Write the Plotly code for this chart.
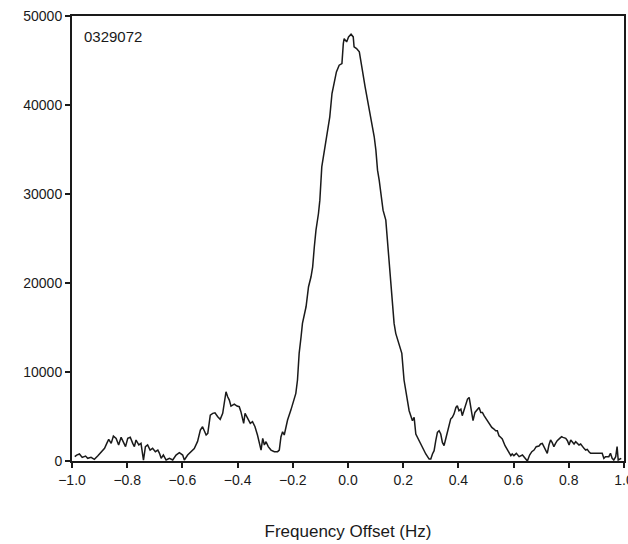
import plotly.graph_objects as go

# Measured frequency-offset spectrum (Hz vs. power)
freq = [
    -0.990, -0.983, -0.973, -0.963, -0.951, -0.943, -0.931, -0.919, -0.907, -0.894,
    -0.882, -0.874, -0.867, -0.858, -0.850, -0.840, -0.831, -0.822, -0.814, -0.806,
    -0.798, -0.789, -0.780, -0.774, -0.768, -0.758, -0.750, -0.741, -0.734, -0.726,
    -0.717, -0.708, -0.698, -0.689, -0.683, -0.677, -0.669, -0.659, -0.647, -0.635,
    -0.623, -0.611, -0.599, -0.593, -0.581, -0.569, -0.557, -0.545, -0.535, -0.527,
    -0.514, -0.508, -0.499, -0.490, -0.482, -0.472, -0.463, -0.454, -0.446, -0.442,
    -0.436, -0.430, -0.424, -0.412, -0.402, -0.394, -0.388, -0.378, -0.373, -0.364,
    -0.354, -0.346, -0.337, -0.328, -0.321, -0.315, -0.309, -0.303, -0.297, -0.289,
    -0.279, -0.267, -0.255, -0.249, -0.243, -0.237, -0.231, -0.225, -0.219, -0.207,
    -0.195, -0.189, -0.183, -0.177, -0.170, -0.165, -0.152, -0.143, -0.134, -0.128,
    -0.122, -0.116, -0.107, -0.102, -0.095, -0.086, -0.074, -0.066, -0.058, -0.050,
    -0.042, -0.032, -0.022, -0.017, -0.014, -0.005, 0.002, 0.011, 0.019, 0.022,
    0.031, 0.041, 0.047, 0.052, 0.062, 0.071, 0.079, 0.088, 0.095, 0.101,
    0.107, 0.113, 0.119, 0.127, 0.137, 0.143, 0.149, 0.155, 0.161, 0.167,
    0.173, 0.185, 0.195, 0.203, 0.210, 0.2215, 0.2335, 0.2396, 0.2457, 0.2577,
    0.2697, 0.2818, 0.294, 0.300, 0.306, 0.312, 0.318, 0.324, 0.330, 0.336,
    0.342, 0.348, 0.354, 0.364, 0.372, 0.378, 0.384, 0.391, 0.396, 0.402,
    0.409, 0.414, 0.421, 0.427, 0.433, 0.439, 0.441, 0.448, 0.453, 0.460,
    0.469, 0.475, 0.481, 0.487, 0.493, 0.501, 0.511, 0.521, 0.529, 0.535,
    0.541, 0.547, 0.553, 0.559, 0.569, 0.577, 0.583, 0.590, 0.595, 0.601,
    0.610, 0.620, 0.632, 0.644, 0.650, 0.658, 0.666, 0.674, 0.682, 0.692,
    0.698, 0.704, 0.710, 0.716, 0.722, 0.728, 0.734, 0.740, 0.746, 0.752,
    0.758, 0.767, 0.774, 0.779, 0.789, 0.795, 0.801, 0.807, 0.813, 0.819,
    0.825, 0.831, 0.837, 0.843, 0.849, 0.855, 0.861, 0.867, 0.873, 0.879,
    0.885, 0.897, 0.909, 0.921, 0.927, 0.933, 0.945, 0.951, 0.957, 0.963,
    0.970, 0.975, 0.979, 0.990,
]

power = [
    500, 670, 790, 410, 560, 300, 410, 190, 560, 1050,
    1420, 1980, 2430, 1980, 2800, 2540, 1800, 2660, 2170, 1610,
    2540, 2660, 1980, 1610, 2360, 1800, 1980, 110, 1610, 1800,
    1230, 1420, 1050, 1230, 860, 300, 670, 110, 300, 110,
    670, 940, 670, 110, 670, 1050, 1400, 2200, 3480, 3850,
    2920, 3100, 5160, 5350, 5420, 4970, 4680, 5350, 7030, 7780,
    7220, 6840, 6170, 6400, 6170, 6100, 5540, 4230, 5350, 4790,
    4230, 4410, 3850, 2920, 1980, 1230, 2540, 1800, 2170, 1610,
    1230, 1050, 1050, 1230, 2700, 3290, 2920, 3900, 4600, 5720,
    7000, 7600, 9100, 12090, 13960, 15460, 17330, 19580, 20700, 21820,
    24070, 25940, 27810, 29310, 33050, 34930, 37170, 38670, 41290, 42410,
    43720, 44470, 44650, 46900, 47460, 47090, 47650, 47950, 47650, 46530,
    46340, 45970, 45040, 43910, 42040, 40540, 39050, 37930, 36430, 34930,
    32680, 31550, 30060, 28180, 27060, 24820, 22200, 19580, 17330, 15460,
    14340, 13210, 12090, 9100, 7700, 5650, 4530, 4900, 3030, 2280,
    1530, 790, 220, 220, 790, 1160, 2280, 3220, 3400, 3030,
    2090, 1720, 2470, 3780, 4710, 4900, 5270, 6020, 6210, 5650,
    5830, 5090, 5830, 6400, 6960, 7140, 6770, 5650, 4530, 5460,
    5830, 6020, 5460, 5460, 5090, 4710, 4340, 3780, 3590, 3400,
    3400, 2840, 2660, 2470, 1720, 1350, 970, 600, 790, 600,
    860, 490, 670, 200, 0, 670, 1050, 1230, 1610, 1680,
    1910, 1980, 1610, 1230, 860, 1800, 2360, 2060, 1610, 1980,
    2280, 2540, 2730, 2660, 2540, 2280, 1800, 2360, 2170, 1910,
    2170, 1980, 1800, 1910, 1610, 1420, 1230, 1310, 1050, 860,
    860, 860, 860, 860, 300, 490, 490, 860, 300, 110,
    490, 1610, 110, 300,
]

x_ticks = [-1.0, -0.8, -0.6, -0.4, -0.2, 0.0, 0.2, 0.4, 0.6, 0.8, 1.0]
y_ticks = [0, 10000, 20000, 30000, 40000, 50000]
sample_id = "0329072"

font_family = "Liberation Sans, Arial, sans-serif"
ink = "#1a1a1a"

fig = go.Figure()
fig.add_trace(go.Scatter(
    x=freq, y=power, mode="lines",
    line=dict(color=ink, width=1.5),
    showlegend=False, hoverinfo="skip",
))

fig.update_layout(
    width=628, height=544,
    margin=dict(l=72, r=4, t=16, b=83),
    paper_bgcolor="white", plot_bgcolor="white",
    font=dict(family=font_family, color=ink, size=14),
    xaxis=dict(
        range=[-1.0, 1.0], tickvals=x_ticks, tickformat=".1f",
        ticklabeloverflow="allow", automargin=False,
        showline=True, linecolor=ink, linewidth=2, mirror=True,
        ticks="outside", ticklen=5, tickwidth=2, tickcolor=ink,
        showgrid=False, zeroline=False,
        tickfont=dict(size=14),
        title=dict(text="Frequency Offset (Hz)", font=dict(size=17), standoff=38),
    ),
    yaxis=dict(
        range=[0, 50000], tickvals=y_ticks, tickformat="d",
        automargin=False,
        showline=True, linecolor=ink, linewidth=2, mirror=True,
        ticks="outside", ticklen=5, tickwidth=2, tickcolor=ink,
        showgrid=False, zeroline=False,
        tickfont=dict(size=14),
    ),
    annotations=[dict(
        text=sample_id, xref="paper", yref="paper",
        x=0.018, y=0.955, xanchor="left", yanchor="middle",
        showarrow=False, font=dict(size=15, color=ink),
    )],
)

fig.write_html("out.html")
